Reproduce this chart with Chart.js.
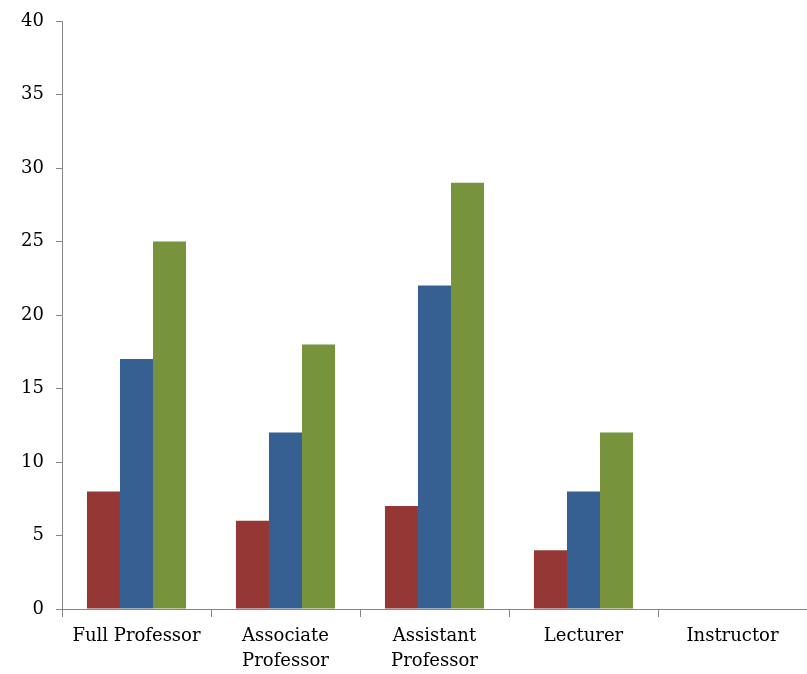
<!DOCTYPE html>
<html>
<head>
  <meta charset="UTF-8">
  <title>Faculty Rank Chart</title>
  <script src="https://cdn.jsdelivr.net/npm/chart.js"></script>
  <style>
    html, body { margin: 0; padding: 0; background: #fff; }
    #wrap { width: 807px; height: 674px; }
  </style>
</head>
<body>
  <div id="wrap"><canvas id="rankChart" width="807" height="674"></canvas></div>
  <script>
    // data
    const categories = [
      'Full Professor',
      ['Associate', 'Professor'],
      ['Assistant', 'Professor'],
      'Lecturer',
      'Instructor'
    ];
    const seriesRed = [8, 6, 7, 4, 0];
    const seriesBlue = [17, 12, 22, 8, 0];
    const seriesGreen = [25, 18, 29, 12, 0];
    const yTicks = [0, 5, 10, 15, 20, 25, 30, 35, 40];

    const axisColor = '#868686';
    const xFont = { family: 'DejaVu Serif', size: 18, lineHeight: 1.4 };
    const yFont = { family: 'DejaVu Serif', size: 18, lineHeight: 1.0 };

    new Chart(document.getElementById('rankChart').getContext('2d'), {
      type: 'bar',
      data: {
        labels: categories,
        datasets: [
          { data: seriesRed, backgroundColor: '#953735' },
          { data: seriesBlue, backgroundColor: '#376092' },
          { data: seriesGreen, backgroundColor: '#77933C' }
        ]
      },
      options: {
        responsive: false,
        animation: false,
        layout: { padding: { top: 10, right: 0, left: 0, bottom: 0 } },
        datasets: { bar: { categoryPercentage: 0.665, barPercentage: 1.0 } },
        plugins: { legend: { display: false }, tooltip: { enabled: false } },
        scales: {
          x: {
            grid: { offset: true, drawOnChartArea: false, color: axisColor, tickLength: 8 },
            border: { color: axisColor },
            ticks: { font: xFont, color: '#000', padding: 7, maxRotation: 0 },
            afterFit: (s) => { s.height = 65; }
          },
          y: {
            min: 0,
            max: 40,
            afterBuildTicks: (s) => { s.ticks = yTicks.map(v => ({ value: v })); },
            grid: { drawOnChartArea: false, color: axisColor, tickLength: 6 },
            border: { color: axisColor },
            ticks: { font: yFont, color: '#000', padding: 12 },
            afterFit: (s) => { s.width = 62; }
          }
        }
      }
    });
  </script>
</body>
</html>
